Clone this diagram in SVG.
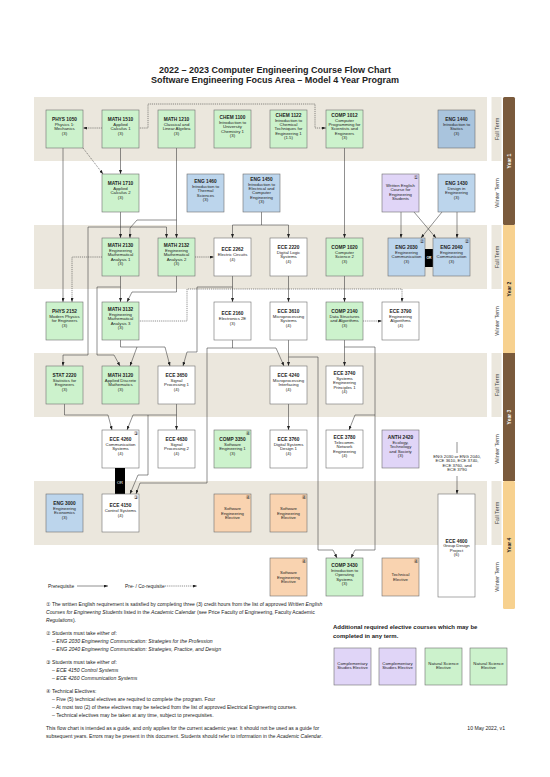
<svg xmlns="http://www.w3.org/2000/svg" width="550" height="777" viewBox="0 0 550 777">
<style>
text{font-family:'Liberation Sans','DejaVu Sans',sans-serif;fill:#222}
.band{fill:#ebe7dd}
.bx{stroke:#6e6e6e;stroke-width:0.6}
.g{fill:#ccf2cc}.bl{fill:#bcd5ec}.bl2{fill:#a9c4dd}.p{fill:#e0d5f7}.o{fill:#f9d3b0}.w{fill:#ffffff}
.t{font-size:4.3px;text-anchor:middle}
.b{font-weight:bold;font-size:4.8px}
.mk{font-size:5px;text-anchor:end}
.ln{fill:none;stroke:#333;stroke-width:0.55;marker-end:url(#a)}
.ln0{fill:none;stroke:#333;stroke-width:0.55}
.dl{fill:none;stroke:#333;stroke-width:0.55;stroke-dasharray:1.2 0.9;marker-end:url(#a)}
.term{font-size:5.5px;text-anchor:middle;fill:#444}
.yr{font-size:5px;font-weight:bold;text-anchor:middle}
.n{font-size:5.1px}
.lg{font-size:4.9px}
.i{font-style:italic}
.h{font-size:6px;font-weight:bold}
</style>
<defs>
<marker id="a" markerUnits="userSpaceOnUse" markerWidth="4" markerHeight="3" refX="4" refY="1.5" orient="auto"><path d="M0,0 L4,1.5 L0,3 z" fill="#222"/></marker>
</defs>
<g id="title">
<text x="275" y="73.3" font-size="9" font-weight="bold" text-anchor="middle">2022 – 2023 Computer Engineering Course Flow Chart</text>
<text x="275" y="83.3" font-size="9" font-weight="bold" text-anchor="middle">Software Engineering Focus Area – Model 4 Year Program</text>
</g>
<g id="bands">
<rect class="band" x="34" y="97" width="453" height="64"/>
<rect class="band" x="34" y="225" width="453" height="64"/>
<rect class="band" x="34" y="353" width="453" height="64"/>
<rect class="band" x="34" y="481" width="453" height="64"/>
<rect class="band" x="491.5" y="97" width="10" height="64"/>
<rect class="band" x="491.5" y="225" width="10" height="64"/>
<rect class="band" x="491.5" y="353" width="10" height="64"/>
<rect class="band" x="491.5" y="481" width="10" height="64"/>
<rect x="503" y="97" width="12" height="128" fill="#7a5a3c" rx="1.5"/>
<rect x="503" y="225" width="12" height="128" fill="#f7d18f"/>
<rect x="503" y="353" width="12" height="128" fill="#7a5a3c"/>
<rect x="503" y="481" width="12" height="128" fill="#f7d18f" rx="1.5"/>
<text class="term" transform="translate(499,129) rotate(-90)">Fall Term</text>
<text class="term" transform="translate(499,193) rotate(-90)">Winter Term</text>
<text class="term" transform="translate(499,257) rotate(-90)">Fall Term</text>
<text class="term" transform="translate(499,321) rotate(-90)">Winter Term</text>
<text class="term" transform="translate(499,385) rotate(-90)">Fall Term</text>
<text class="term" transform="translate(499,449) rotate(-90)">Winter Term</text>
<text class="term" transform="translate(499,513) rotate(-90)">Fall Term</text>
<text class="term" transform="translate(499,577) rotate(-90)">Winter Term</text>
<text class="yr" transform="translate(510.8,161) rotate(-90)" style="fill:#fff">Year 1</text>
<text class="yr" transform="translate(510.8,289) rotate(-90)">Year 2</text>
<text class="yr" transform="translate(510.8,417) rotate(-90)" style="fill:#fff">Year 3</text>
<text class="yr" transform="translate(510.8,545) rotate(-90)">Year 4</text>
</g>
<g id="connectors">
<path class="dl" d="M102,128 L83,128"/>
<path class="dl" d="M138,128 L148,128 L148,104 L315,104 L315,128 L326,128"/>
<path class="dl" d="M83,148 L103,174"/>
<path class="ln" d="M120.5,148 L120.5,174"/>
<path class="ln" d="M63,148 L63,302"/>
<path class="ln" d="M176.5,148 L176.5,238"/>
<path class="ln" d="M176.5,220 L137,220 L130,228 L130,238"/>
<path class="ln" d="M120.5,212 L120.5,238"/>
<path class="ln" d="M120.5,227 L166.5,227 L166.5,238"/>
<path class="ln" d="M120.5,227 L88,227 L88,355 L63,355 L63,366"/>
<path class="dl" d="M102,257 L72,257 L72,302"/>
<path class="ln" d="M120.5,276 L120.5,302"/>
<path class="ln" d="M176.5,276 L176.5,292 L132,292 L127,302"/>
<path class="dl" d="M195,257 L214,257"/>
<path class="ln" d="M261.5,212 L261.5,225 L232.5,225 L232.5,238"/>
<path class="ln" d="M261.5,225 L288.5,225 L288.5,238"/>
<path class="ln" d="M344.5,148 L344.5,238"/>
<path class="ln" d="M401,212 L401,238"/>
<path class="ln" d="M414,212 L436,238"/>
<path class="ln" d="M457,212 L457,238"/>
<path class="ln" d="M442,212 L421,238"/>
<path class="ln" d="M120.5,287 L97,287 L97,355 L114,355 L120,366"/>
<path class="ln" d="M232.5,276 L232.5,302"/>
<path class="ln" d="M232.5,287 L197,287 L197,352 L187,352 L183,366"/>
<path class="dl" d="M138,321 L187,321 L187,289 L402,289 L402,302"/>
<path class="ln" d="M288.5,276 L288.5,302"/>
<path class="ln" d="M344.5,276 L344.5,302"/>
<path class="dl" d="M363,321 L382,321"/>
<path class="ln" d="M120.5,340 L120.5,347 L165,347 L170,366"/>
<path class="ln" d="M137,347 L130,366"/>
<path class="ln" d="M232.5,340 L232.5,348 L276,348 L284,366"/>
<path class="ln" d="M232.5,348 L207,348 L207,483 L140,483 L136,494"/>
<path class="ln" d="M288.5,340 L288.5,366"/>
<path class="ln" d="M288.5,357 L318,357 L318,550 L333,550 L337,558"/>
<path class="ln" d="M344.5,340 L344.5,366"/>
<path class="ln" d="M344.5,347 L375,347 L375,550 L355,550 L351,558"/>
<path class="ln" d="M375,415 L355,415 L349,430"/>
<path class="ln" d="M64.5,404 L64.5,415 L108,415 L112,430"/>
<path class="ln" d="M176.5,404 L176.5,430"/>
<path class="ln" d="M176.5,415 L133,415 L127,430"/>
<path class="ln" d="M148,415 L148,475 L138,475 L130,494"/>
<path class="ln" d="M288.5,404 L288.5,430"/>
<path class="ln0" d="M457,442 L457,453"/>
<path class="ln" d="M457,476 L457,494"/>
</g>
<g id="y1f">
<g id="phys1050"><rect class="bx g" x="46" y="110" width="37" height="38"/><text class="t" x="64.5" y="121.3"><tspan class="b">PHYS 1050</tspan><tspan x="64.5" dy="4.8">Physics 1:</tspan><tspan x="64.5" dy="4.3">Mechanics</tspan><tspan x="64.5" dy="4.3">(3)</tspan></text></g>
<g id="math1510"><rect class="bx g" x="102" y="110" width="37" height="38"/><text class="t" x="120.5" y="121.3"><tspan class="b">MATH 1510</tspan><tspan x="120.5" dy="4.8">Applied</tspan><tspan x="120.5" dy="4.3">Calculus 1</tspan><tspan x="120.5" dy="4.3">(3)</tspan></text></g>
<g id="math1210"><rect class="bx g" x="158" y="110" width="37" height="38"/><text class="t" x="176.5" y="121.3"><tspan class="b">MATH 1210</tspan><tspan x="176.5" dy="4.8">Classical and</tspan><tspan x="176.5" dy="4.3">Linear Algebra</tspan><tspan x="176.5" dy="4.3">(3)</tspan></text></g>
<g id="chem1100"><rect class="bx g" x="214" y="110" width="37" height="38"/><text class="t" x="232.5" y="119.15"><tspan class="b">CHEM 1100</tspan><tspan x="232.5" dy="4.8">Introduction to</tspan><tspan x="232.5" dy="4.3">University</tspan><tspan x="232.5" dy="4.3">Chemistry 1</tspan><tspan x="232.5" dy="4.3">(3)</tspan></text></g>
<g id="chem1122"><rect class="bx g" x="270" y="110" width="37" height="38"/><text class="t" x="288.5" y="117"><tspan class="b">CHEM 1122</tspan><tspan x="288.5" dy="4.8">Introduction to</tspan><tspan x="288.5" dy="4.3">Chemical</tspan><tspan x="288.5" dy="4.3">Techniques for</tspan><tspan x="288.5" dy="4.3">Engineering 1</tspan><tspan x="288.5" dy="4.3">(1.5)</tspan></text></g>
<g id="comp1012"><rect class="bx g" x="326" y="110" width="37" height="38"/><text class="t" x="344.5" y="117"><tspan class="b">COMP 1012</tspan><tspan x="344.5" dy="4.8">Computer</tspan><tspan x="344.5" dy="4.3">Programming for</tspan><tspan x="344.5" dy="4.3">Scientists and</tspan><tspan x="344.5" dy="4.3">Engineers</tspan><tspan x="344.5" dy="4.3">(3)</tspan></text></g>
<g id="eng1440"><rect class="bx bl2" x="438" y="110" width="37" height="38"/><text class="t" x="456.5" y="121.3"><tspan class="b">ENG 1440</tspan><tspan x="456.5" dy="4.8">Introduction to</tspan><tspan x="456.5" dy="4.3">Statics</tspan><tspan x="456.5" dy="4.3">(3)</tspan></text></g>
</g>
<g id="y1w">
<g id="math1710"><rect class="bx g" x="102" y="174" width="37" height="38"/><text class="t" x="120.5" y="185.3"><tspan class="b">MATH 1710</tspan><tspan x="120.5" dy="4.8">Applied</tspan><tspan x="120.5" dy="4.3">Calculus 2</tspan><tspan x="120.5" dy="4.3">(3)</tspan></text></g>
<g id="eng1460"><rect class="bx bl" x="187" y="174" width="37" height="38"/><text class="t" x="205.5" y="183.15"><tspan class="b">ENG 1460</tspan><tspan x="205.5" dy="4.8">Introduction to</tspan><tspan x="205.5" dy="4.3">Thermal</tspan><tspan x="205.5" dy="4.3">Sciences</tspan><tspan x="205.5" dy="4.3">(3)</tspan></text></g>
<g id="eng1450"><rect class="bx bl" x="243" y="174" width="37" height="38"/><text class="t" x="261.5" y="181"><tspan class="b">ENG 1450</tspan><tspan x="261.5" dy="4.8">Introduction to</tspan><tspan x="261.5" dy="4.3">Electrical and</tspan><tspan x="261.5" dy="4.3">Computer</tspan><tspan x="261.5" dy="4.3">Engineering</tspan><tspan x="261.5" dy="4.3">(3)</tspan></text></g>
<g id="written"><rect class="bx p" x="382" y="174" width="37" height="38"/><text class="mk" x="418.2" y="179">①</text><text class="t" x="400.5" y="187"><tspan>Written English</tspan><tspan x="400.5" dy="4.3">Course for</tspan><tspan x="400.5" dy="4.3">Engineering</tspan><tspan x="400.5" dy="4.3">Students</tspan></text></g>
<g id="eng1430"><rect class="bx bl" x="438" y="174" width="37" height="38"/><text class="t" x="456.5" y="185.3"><tspan class="b">ENG 1430</tspan><tspan x="456.5" dy="4.8">Design in</tspan><tspan x="456.5" dy="4.3">Engineering</tspan><tspan x="456.5" dy="4.3">(3)</tspan></text></g>
</g>
<g id="y2f">
<g id="math2130"><rect class="bx g" x="102" y="238" width="37" height="38"/><text class="t" x="120.5" y="247.15"><tspan class="b">MATH 2130</tspan><tspan x="120.5" dy="4.8">Engineering</tspan><tspan x="120.5" dy="4.3">Mathematical</tspan><tspan x="120.5" dy="4.3">Analysis 1</tspan><tspan x="120.5" dy="4.3">(3)</tspan></text></g>
<g id="math2132"><rect class="bx g" x="158" y="238" width="37" height="38"/><text class="t" x="176.5" y="247.15"><tspan class="b">MATH 2132</tspan><tspan x="176.5" dy="4.8">Engineering</tspan><tspan x="176.5" dy="4.3">Mathematical</tspan><tspan x="176.5" dy="4.3">Analysis 2</tspan><tspan x="176.5" dy="4.3">(3)</tspan></text></g>
<g id="ece2262"><rect class="bx w" x="214" y="238" width="37" height="38"/><text class="t" x="232.5" y="251.45"><tspan class="b">ECE 2262</tspan><tspan x="232.5" dy="4.8">Electric Circuits</tspan><tspan x="232.5" dy="4.3">(4)</tspan></text></g>
<g id="ece2220"><rect class="bx w" x="270" y="238" width="37" height="38"/><text class="t" x="288.5" y="249.3"><tspan class="b">ECE 2220</tspan><tspan x="288.5" dy="4.8">Digital Logic</tspan><tspan x="288.5" dy="4.3">Systems</tspan><tspan x="288.5" dy="4.3">(4)</tspan></text></g>
<g id="comp1020"><rect class="bx g" x="326" y="238" width="37" height="38"/><text class="t" x="344.5" y="249.3"><tspan class="b">COMP 1020</tspan><tspan x="344.5" dy="4.8">Computer</tspan><tspan x="344.5" dy="4.3">Science 2</tspan><tspan x="344.5" dy="4.3">(3)</tspan></text></g>
<g id="eng2030"><rect class="bx bl" x="388" y="238" width="37" height="38"/><text class="mk" x="424.2" y="243">②</text><text class="t" x="406.5" y="249.3"><tspan class="b">ENG 2030</tspan><tspan x="406.5" dy="4.8">Engineering</tspan><tspan x="406.5" dy="4.3">Communication</tspan><tspan x="406.5" dy="4.3">(3)</tspan></text></g>
<g id="or1"><rect x="425" y="249" width="8" height="18" fill="#000"/><text x="429" y="259.3" font-size="3.4" font-weight="bold" text-anchor="middle" style="fill:#fff">OR</text></g>
<g id="eng2040"><rect class="bx bl" x="433" y="238" width="37" height="38"/><text class="mk" x="469.2" y="243">②</text><text class="t" x="451.5" y="249.3"><tspan class="b">ENG 2040</tspan><tspan x="451.5" dy="4.8">Engineering</tspan><tspan x="451.5" dy="4.3">Communication</tspan><tspan x="451.5" dy="4.3">(3)</tspan></text></g>
</g>
<g id="y2w">
<g id="phys2152"><rect class="bx g" x="46" y="302" width="37" height="38"/><text class="t" x="64.5" y="313.3"><tspan class="b">PHYS 2152</tspan><tspan x="64.5" dy="4.8">Modern Physics</tspan><tspan x="64.5" dy="4.3">for Engineers</tspan><tspan x="64.5" dy="4.3">(3)</tspan></text></g>
<g id="math3132"><rect class="bx g" x="102" y="302" width="37" height="38"/><text class="t" x="120.5" y="311.15"><tspan class="b">MATH 3132</tspan><tspan x="120.5" dy="4.8">Engineering</tspan><tspan x="120.5" dy="4.3">Mathematical</tspan><tspan x="120.5" dy="4.3">Analysis 3</tspan><tspan x="120.5" dy="4.3">(3)</tspan></text></g>
<g id="ece2160"><rect class="bx w" x="214" y="302" width="37" height="38"/><text class="t" x="232.5" y="315.45"><tspan class="b">ECE 2160</tspan><tspan x="232.5" dy="4.8">Electronics 2E</tspan><tspan x="232.5" dy="4.3">(3)</tspan></text></g>
<g id="ece3610"><rect class="bx w" x="270" y="302" width="37" height="38"/><text class="t" x="288.5" y="313.3"><tspan class="b">ECE 3610</tspan><tspan x="288.5" dy="4.8">Microprocessing</tspan><tspan x="288.5" dy="4.3">Systems</tspan><tspan x="288.5" dy="4.3">(4)</tspan></text></g>
<g id="comp2140"><rect class="bx g" x="326" y="302" width="37" height="38"/><text class="t" x="344.5" y="313.3"><tspan class="b">COMP 2140</tspan><tspan x="344.5" dy="4.8">Data Structures</tspan><tspan x="344.5" dy="4.3">and Algorithms</tspan><tspan x="344.5" dy="4.3">(3)</tspan></text></g>
<g id="ece3790"><rect class="bx w" x="382" y="302" width="37" height="38"/><text class="t" x="400.5" y="313.3"><tspan class="b">ECE 3790</tspan><tspan x="400.5" dy="4.8">Engineering</tspan><tspan x="400.5" dy="4.3">Algorithms</tspan><tspan x="400.5" dy="4.3">(4)</tspan></text></g>
</g>
<g id="y3f">
<g id="stat2220"><rect class="bx g" x="46" y="366" width="37" height="38"/><text class="t" x="64.5" y="377.3"><tspan class="b">STAT 2220</tspan><tspan x="64.5" dy="4.8">Statistics for</tspan><tspan x="64.5" dy="4.3">Engineers</tspan><tspan x="64.5" dy="4.3">(3)</tspan></text></g>
<g id="math3120"><rect class="bx g" x="102" y="366" width="37" height="38"/><text class="t" x="120.5" y="377.3"><tspan class="b">MATH 3120</tspan><tspan x="120.5" dy="4.8">Applied Discrete</tspan><tspan x="120.5" dy="4.3">Mathematics</tspan><tspan x="120.5" dy="4.3">(3)</tspan></text></g>
<g id="ece3650"><rect class="bx w" x="158" y="366" width="37" height="38"/><text class="t" x="176.5" y="377.3"><tspan class="b">ECE 3650</tspan><tspan x="176.5" dy="4.8">Signal</tspan><tspan x="176.5" dy="4.3">Processing 1</tspan><tspan x="176.5" dy="4.3">(4)</tspan></text></g>
<g id="ece4240"><rect class="bx w" x="270" y="366" width="37" height="38"/><text class="t" x="288.5" y="377.3"><tspan class="b">ECE 4240</tspan><tspan x="288.5" dy="4.8">Microprocessing</tspan><tspan x="288.5" dy="4.3">Interfacing</tspan><tspan x="288.5" dy="4.3">(4)</tspan></text></g>
<g id="ece3740"><rect class="bx w" x="326" y="366" width="37" height="38"/><text class="t" x="344.5" y="375.15"><tspan class="b">ECE 3740</tspan><tspan x="344.5" dy="4.8">Systems</tspan><tspan x="344.5" dy="4.3">Engineering</tspan><tspan x="344.5" dy="4.3">Principles 1</tspan><tspan x="344.5" dy="4.3">(4)</tspan></text></g>
</g>
<g id="y3w">
<g id="ece4260"><rect class="bx w" x="102" y="430" width="37" height="38"/><text class="mk" x="138.2" y="435">③</text><text class="t" x="120.5" y="441.3"><tspan class="b">ECE 4260</tspan><tspan x="120.5" dy="4.8">Communication</tspan><tspan x="120.5" dy="4.3">Systems</tspan><tspan x="120.5" dy="4.3">(4)</tspan></text></g>
<g id="ece4630"><rect class="bx w" x="158" y="430" width="37" height="38"/><text class="t" x="176.5" y="441.3"><tspan class="b">ECE 4630</tspan><tspan x="176.5" dy="4.8">Signal</tspan><tspan x="176.5" dy="4.3">Processing 2</tspan><tspan x="176.5" dy="4.3">(4)</tspan></text></g>
<g id="comp3350"><rect class="bx g" x="214" y="430" width="37" height="38"/><text class="mk" x="250.2" y="435">④</text><text class="t" x="232.5" y="441.3"><tspan class="b">COMP 3350</tspan><tspan x="232.5" dy="4.8">Software</tspan><tspan x="232.5" dy="4.3">Engineering 1</tspan><tspan x="232.5" dy="4.3">(3)</tspan></text></g>
<g id="ece3760"><rect class="bx w" x="270" y="430" width="37" height="38"/><text class="t" x="288.5" y="441.3"><tspan class="b">ECE 3760</tspan><tspan x="288.5" dy="4.8">Digital Systems</tspan><tspan x="288.5" dy="4.3">Design 1</tspan><tspan x="288.5" dy="4.3">(4)</tspan></text></g>
<g id="ece3780"><rect class="bx w" x="326" y="430" width="37" height="38"/><text class="t" x="344.5" y="439.15"><tspan class="b">ECE 3780</tspan><tspan x="344.5" dy="4.8">Telecomm.</tspan><tspan x="344.5" dy="4.3">Network</tspan><tspan x="344.5" dy="4.3">Engineering</tspan><tspan x="344.5" dy="4.3">(4)</tspan></text></g>
<g id="anth2420"><rect class="bx p" x="382" y="430" width="37" height="38"/><text class="t" x="400.5" y="439.15"><tspan class="b">ANTH 2420</tspan><tspan x="400.5" dy="4.8">Ecology,</tspan><tspan x="400.5" dy="4.3">Technology</tspan><tspan x="400.5" dy="4.3">and Society</tspan><tspan x="400.5" dy="4.3">(3)</tspan></text></g>
<g id="ece4600prereq"><text class="t" x="457" y="458"><tspan>ENG 2030 or ENG 2040,</tspan><tspan x="457" dy="4.3">ECE 3610, ECE 3740,</tspan><tspan x="457" dy="4.3">ECE 3760, and</tspan><tspan x="457" dy="4.3">ECE 3790</tspan></text></g>
<g id="or2"><rect x="115" y="468" width="10" height="26" fill="#000"/><text x="120" y="483.5" font-size="4" text-anchor="middle" style="fill:#fff">OR</text></g>
</g>
<g id="y4f">
<g id="eng3000"><rect class="bx bl" x="46" y="494" width="37" height="38"/><text class="t" x="64.5" y="505.3"><tspan class="b">ENG 3000</tspan><tspan x="64.5" dy="4.8">Engineering</tspan><tspan x="64.5" dy="4.3">Economics</tspan><tspan x="64.5" dy="4.3">(3)</tspan></text></g>
<g id="ece4150"><rect class="bx w" x="102" y="494" width="37" height="38"/><text class="mk" x="138.2" y="499">③</text><text class="t" x="120.5" y="507.45"><tspan class="b">ECE 4150</tspan><tspan x="120.5" dy="4.8">Control Systems</tspan><tspan x="120.5" dy="4.3">(4)</tspan></text></g>
<g id="se1"><rect class="bx o" x="214" y="494" width="37" height="38"/><text class="mk" x="250.2" y="499">④</text><text class="t" x="232.5" y="510.2"><tspan>Software</tspan><tspan x="232.5" dy="4.3">Engineering</tspan><tspan x="232.5" dy="4.3">Elective</tspan></text></g>
<g id="se2"><rect class="bx o" x="270" y="494" width="37" height="38"/><text class="mk" x="306.2" y="499">④</text><text class="t" x="288.5" y="510.2"><tspan>Software</tspan><tspan x="288.5" dy="4.3">Engineering</tspan><tspan x="288.5" dy="4.3">Elective</tspan></text></g>
<g id="ece4600"><rect class="bx w" x="438" y="494" width="37" height="103"/><text class="t" x="456.5" y="542.5"><tspan class="b">ECE 4600</tspan><tspan x="456.5" dy="4.8">Group Design</tspan><tspan x="456.5" dy="4.3">Project</tspan><tspan x="456.5" dy="4.3">(6)</tspan></text></g>
</g>
<g id="y4w">
<g id="se3"><rect class="bx o" x="270" y="558" width="37" height="38"/><text class="mk" x="306.2" y="563">④</text><text class="t" x="288.5" y="574.2"><tspan>Software</tspan><tspan x="288.5" dy="4.3">Engineering</tspan><tspan x="288.5" dy="4.3">Elective</tspan></text></g>
<g id="comp3430"><rect class="bx g" x="326" y="558" width="37" height="38"/><text class="t" x="344.5" y="567.15"><tspan class="b">COMP 3430</tspan><tspan x="344.5" dy="4.8">Introduction to</tspan><tspan x="344.5" dy="4.3">Operating</tspan><tspan x="344.5" dy="4.3">Systems</tspan><tspan x="344.5" dy="4.3">(3)</tspan></text></g>
<g id="tech1"><rect class="bx o" x="382" y="558" width="37" height="38"/><text class="mk" x="418.2" y="563">④</text><text class="t" x="400.5" y="576.35"><tspan>Technical</tspan><tspan x="400.5" dy="4.3">Elective</tspan></text></g>
</g>
<g id="legend">
<text class="lg" x="48" y="587.7">Prerequisite</text>
<path class="ln" d="M77,586 L108,586"/>
<text class="lg" x="125" y="587.7">Pre- / Co-requisite</text>
<path class="dl" d="M165,586 L197,586"/>
</g>
<g id="notes">
<text class="n" x="46" y="606">① The written English requirement is satisfied by completing three (3) credit hours from the list of approved <tspan class="i">Written English</tspan></text>
<text class="n" x="46" y="614"><tspan class="i">Courses for Engineering Students</tspan> listed in the <tspan class="i">Academic Calendar</tspan> (see Price Faculty of Engineering, Faculty Academic</text>
<text class="n" x="46" y="622"><tspan class="i">Regulations</tspan>).</text>
<text class="n" x="46" y="635">② Students must take either of:</text>
<text class="n" x="52" y="643">– <tspan class="i">ENG 2030 Engineering Communication: Strategies for the Profession</tspan></text>
<text class="n" x="52" y="651">– <tspan class="i">ENG 2040 Engineering Communication: Strategies, Practice, and Design</tspan></text>
<text class="n" x="46" y="664">③ Students must take either of:</text>
<text class="n" x="52" y="672">– <tspan class="i">ECE 4150 Control Systems</tspan></text>
<text class="n" x="52" y="680">– <tspan class="i">ECE 4260 Communication Systems</tspan></text>
<text class="n" x="46" y="693">④ Technical Electives:</text>
<text class="n" x="52" y="701">– Five (5) technical electives are required to complete the program. Four</text>
<text class="n" x="52" y="709">– At most two (2) of these electives may be selected from the list of approved Electrical Engineering courses.</text>
<text class="n" x="52" y="717">– Technical electives may be taken at any time, subject to prerequisites.</text>
<text class="n" x="46" y="730">This flow chart is intended as a guide, and only applies for the current academic year. It should not be used as a guide for</text>
<text class="n" x="46" y="738">subsequent years. Errors may be present in this document. Students should refer to information in the <tspan class="i">Academic Calendar</tspan>.</text>
<text class="n" x="505" y="730" text-anchor="end">10 May 2022, v1</text>
</g>
<g id="additional">
<text class="h" x="333" y="629">Additional required elective courses which may be</text>
<text class="h" x="333" y="638">completed in any term.</text>
<g id="cs1"><rect class="bx p" x="334" y="648" width="37" height="37"/><text class="t" x="352.5" y="665"><tspan>Complementary</tspan><tspan x="352.5" dy="4.3">Studies Elective</tspan></text></g>
<g id="cs2"><rect class="bx p" x="379" y="648" width="37" height="37"/><text class="t" x="397.5" y="665"><tspan>Complementary</tspan><tspan x="397.5" dy="4.3">Studies Elective</tspan></text></g>
<g id="ns1"><rect class="bx g" x="425" y="648" width="37" height="37"/><text class="t" x="443.5" y="665"><tspan>Natural Science</tspan><tspan x="443.5" dy="4.3">Elective</tspan></text></g>
<g id="ns2"><rect class="bx g" x="470" y="648" width="37" height="37"/><text class="t" x="488.5" y="665"><tspan>Natural Science</tspan><tspan x="488.5" dy="4.3">Elective</tspan></text></g>
</g>
</svg>
